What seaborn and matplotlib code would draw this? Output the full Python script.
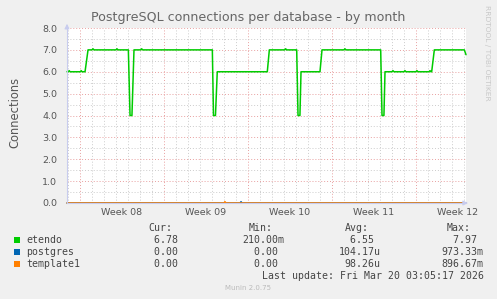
import matplotlib
matplotlib.use("Agg")
import matplotlib.pyplot as plt
from matplotlib.ticker import MultipleLocator, FixedLocator, FormatStrFormatter
from matplotlib.patches import Rectangle
import matplotlib.transforms as mtransforms
import seaborn as sns
import pandas as pd

# ---------------- data ----------------
etendo_days = [-1.083, -0.97, -0.9, -0.83, 0.03, 0.1, 0.17, 0.42, 0.67, 1.0, 1.08, 1.17,
               3.0, 3.08, 3.17, 4.03, 4.17, 4.33, 4.5, 5.06, 5.14, 5.22,
               11.03, 11.125, 11.29, 11.44, 15.61, 15.78, 17.06, 17.14, 17.22,
               18.06, 18.17, 18.33, 18.42, 20.0, 20.17, 22.0, 22.08, 22.17,
               25.06, 25.17, 25.33, 25.42, 26.0, 26.08, 26.17, 27.0, 27.08, 27.17,
               28.0, 28.08, 28.17, 29.08, 29.17, 29.25, 29.31, 29.53, 32.03, 32.17]
etendo_vals = [6.0, 6.0, 6.05, 6.0, 6.0, 6.05, 6.0, 6.0, 7.0, 7.0, 7.05, 7.0,
               7.0, 7.05, 7.0, 7.0, 4.0, 4.0, 7.0, 7.0, 7.05, 7.0,
               7.0, 4.0, 4.0, 6.0, 6.0, 7.0, 7.0, 7.05, 7.0,
               7.0, 4.0, 4.0, 6.0, 6.0, 7.0, 7.0, 7.05, 7.0,
               7.0, 4.0, 4.0, 6.0, 6.0, 6.05, 6.0, 6.0, 6.05, 6.0,
               6.0, 6.05, 6.0, 6.0, 6.05, 6.0, 6.0, 7.0, 7.0, 6.78]
postgres_days = [-1.083, 13.35, 13.42, 13.5, 32.17]
postgres_vals = [0.0, 0.0, 0.06, 0.0, 0.0]
template1_days = [-1.083, 12.0, 12.08, 12.16, 32.17]
template1_vals = [0.0, 0.0, 0.06, 0.0, 0.0]

series_names = ["etendo", "postgres", "template1"]
series_colors = ["#00CC00", "#0066B3", "#FF8000"]
week_labels = ["Week 08", "Week 09", "Week 10", "Week 11", "Week 12"]
week_centers = [3.5, 10.5, 17.5, 24.5, 31.5]
week_bounds = [0, 7, 14, 21, 28]
cur_vals = ["6.78", "0.00", "0.00"]
min_vals = ["210.00m", "0.00", "0.00"]
avg_vals = ["6.55", "104.17u", "98.26u"]
max_vals = ["7.97", "973.33m", "896.67m"]
title = "PostgreSQL connections per database - by month"
ylabel = "Connections"
last_update = "Last update: Fri Mar 20 03:05:17 2026"

df = pd.concat([
    pd.DataFrame({"day": etendo_days, "value": etendo_vals, "db": "etendo"}),
    pd.DataFrame({"day": postgres_days, "value": postgres_vals, "db": "postgres"}),
    pd.DataFrame({"day": template1_days, "value": template1_vals, "db": "template1"}),
], ignore_index=True)

# ---------------- figure ----------------
W, H = 497, 299
sns.set_theme(style="white")
plt.rcParams["font.family"] = ["DejaVu Sans"]
fig = plt.figure(figsize=(W / 100, H / 100), dpi=100, facecolor="#F0F0F0")
ax = fig.add_axes([67 / W, 96 / H, 399 / W, 175 / H])
ax.set_facecolor("white")

xmin, xmax = -1.083, 32.17
ax.set_xlim(xmin, xmax)
ax.set_ylim(0, 8)

# grid
ax.xaxis.set_major_locator(FixedLocator(week_bounds))
ax.xaxis.set_minor_locator(MultipleLocator(1))
ax.yaxis.set_major_locator(MultipleLocator(1))
ax.yaxis.set_minor_locator(MultipleLocator(0.5))
ax.yaxis.set_major_formatter(FormatStrFormatter("%.1f"))
ax.grid(which="minor", color="#CCCCCC", linestyle=(0, (1, 2)), linewidth=0.7)
ax.grid(which="major", color="#E8A0A0", linestyle=(0, (1, 2)), linewidth=0.7)
ax.set_axisbelow(True)
ax.xaxis.set_major_formatter(plt.NullFormatter())
ax.tick_params(axis="both", which="both", length=0, labelsize=6.8, colors="#555555", pad=6)
ax.tick_params(axis="y", pad=7)

for s in ["top", "right"]:
    ax.spines[s].set_visible(False)
ax.spines["left"].set_color("#C8CCEE")
ax.spines["bottom"].set_color("#C8CCEE")
ax.spines["left"].set_linewidth(0.8)
ax.spines["bottom"].set_linewidth(0.8)

# axis arrows
ax.annotate("", xy=(0, 1.04), xytext=(0, 0.98), xycoords="axes fraction",
            arrowprops=dict(arrowstyle="-|>", color="#C8CCEE", lw=0.8, mutation_scale=7),
            annotation_clip=False)
ax.annotate("", xy=(1.012, 0), xytext=(0.99, 0), xycoords="axes fraction",
            arrowprops=dict(arrowstyle="-|>", color="#C8CCEE", lw=0.8, mutation_scale=7),
            annotation_clip=False)

sns.lineplot(data=df, x="day", y="value", hue="db", hue_order=series_names,
             palette=series_colors, linewidth=1.1, legend=False, ax=ax,
             estimator=None, sort=False, clip_on=False)
ax.set_xlabel("")
ax.set_ylabel("")

# week labels
trans = mtransforms.blended_transform_factory(ax.transData, ax.transAxes)
for c, lab in zip(week_centers, week_labels):
    ax.text(c, -0.055, lab, transform=trans, ha="center", va="center",
            fontsize=6.8, color="#555555")

# title / labels
fig.text(248 / W, 1 - 18 / H, title, ha="center", va="center", fontsize=9.1, color="#666666")
fig.text(15 / W, 1 - 112 / H, ylabel, ha="center", va="center", rotation=90,
         fontsize=8.3, color="#555555")
fig.text(487 / W, 1 - 53 / H, "RRDTOOL / TOBI OETIKER", ha="center", va="center",
         rotation=270, fontsize=5.4, color="#C8C8C8")
fig.text(248 / W, 1 - 288 / H, "Munin 2.0.75", ha="center", va="center",
         fontsize=5, color="#BBBBBB")

# legend block (monospace)
mono = dict(family="DejaVu Sans Mono", fontsize=7.1, color="#444444", va="center")
col_right = [184.3, 284.5, 380.5, 483.0]
headers = ["Cur:", "Min:", "Avg:", "Max:"]
row_y = [240, 252, 264]
for r, hdr in zip(col_right, headers):
    fig.text((r - 12) / W, 1 - 228 / H, hdr, ha="right", **mono)
for i, (name, col) in enumerate(zip(series_names, series_colors)):
    y = row_y[i]
    fig.add_artist(Rectangle((14 / W, 1 - (y + 3) / H), 6 / W, 6 / H,
                             transform=fig.transFigure, facecolor=col, edgecolor="none"))
    fig.text(26 / W, 1 - y / H, name, ha="left", **mono)
    for r, vals in zip(col_right, [cur_vals, min_vals, avg_vals, max_vals]):
        v = vals[i]
        if v[-1].isdigit():
            v = v + " "
        fig.text(r / W, 1 - y / H, v, ha="right", **mono)
fig.text(261.7 / W, 1 - 276 / H, last_update, ha="left", **mono)

fig.savefig("out.png", dpi=100, facecolor=fig.get_facecolor())
